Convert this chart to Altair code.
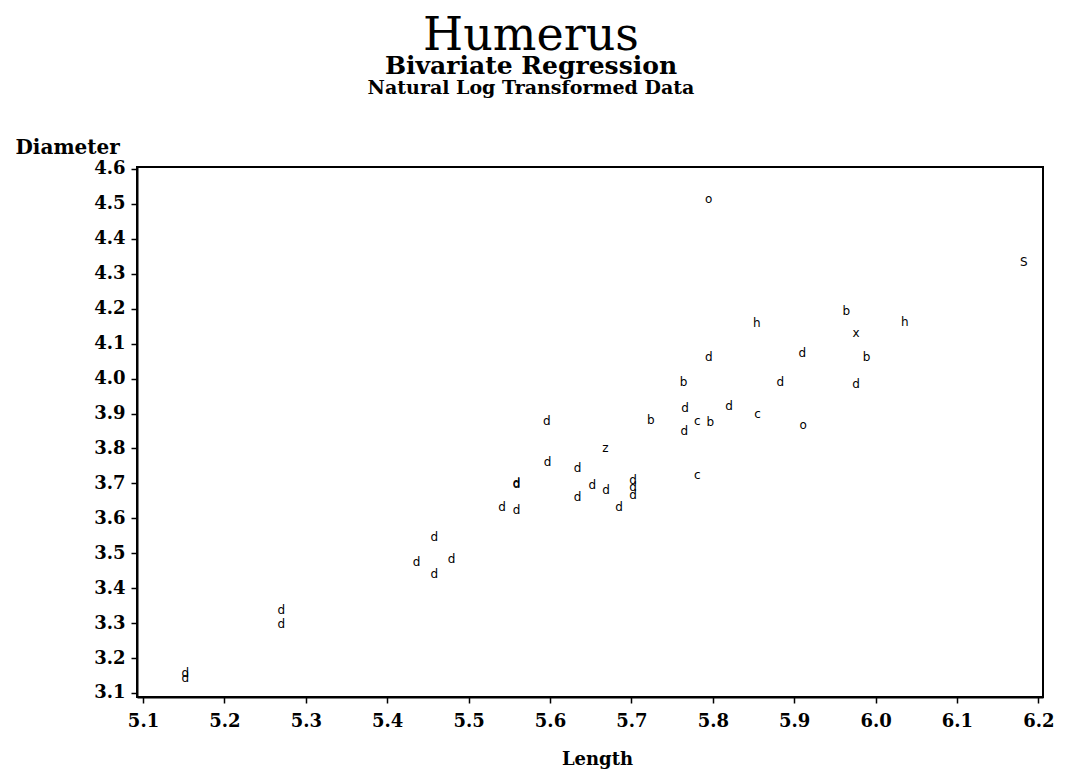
import altair as alt
import pandas as pd

# Natural-log length (x), diameter (y) and the plot symbol of each observation
length = [5.152, 5.152, 5.270, 5.270, 5.436, 5.458, 5.458, 5.479,
          5.541, 5.559, 5.559, 5.559, 5.596, 5.597, 5.634, 5.634,
          5.652, 5.669, 5.668, 5.685, 5.702, 5.702, 5.702, 5.724,
          5.764, 5.766, 5.765, 5.781, 5.797, 5.781, 5.795, 5.795,
          5.820, 5.854, 5.855, 5.883, 5.910, 5.911, 5.964, 5.976,
          5.976, 5.989, 6.036, 6.182]
diameter = [3.156, 3.144, 3.338, 3.298, 3.476, 3.547, 3.441, 3.483,
            3.632, 3.624, 3.702, 3.697, 3.880, 3.761, 3.744, 3.662,
            3.695, 3.681, 3.800, 3.632, 3.710, 3.691, 3.667, 3.882,
            3.991, 3.915, 3.851, 3.879, 3.877, 3.724, 4.513, 4.063,
            3.922, 4.160, 3.899, 3.991, 4.074, 3.866, 4.194, 4.130,
            3.985, 4.063, 4.163, 4.333]
symbol = ["d", "d", "d", "d", "d", "d", "d", "d",
          "d", "d", "d", "d", "d", "d", "d", "d",
          "d", "d", "z", "d", "d", "d", "d", "b",
          "b", "d", "d", "c", "b", "c", "o", "d",
          "d", "h", "c", "d", "d", "o", "b", "x",
          "d", "b", "h", "S"]

x_ticks = [5.1, 5.2, 5.3, 5.4, 5.5, 5.6, 5.7, 5.8, 5.9, 6.0, 6.1, 6.2]
y_ticks = [3.1, 3.2, 3.3, 3.4, 3.5, 3.6, 3.7, 3.8, 3.9, 4.0, 4.1, 4.2, 4.3, 4.4, 4.5, 4.6]

title_lines = ["Humerus", "Bivariate Regression", "Natural Log Transformed Data"]

df = pd.DataFrame({"Length": length, "Diameter": diameter, "sym": symbol})

SERIF = "DejaVu Serif"

points = alt.Chart(df).mark_text(
    font="DejaVu Sans", fontSize=12, color="black", align="center", baseline="middle"
).encode(
    x=alt.X("Length:Q",
            scale=alt.Scale(domain=[5.0926, 6.2057], nice=False, zero=False),
            axis=alt.Axis(values=x_ticks, format=".1f", title="Length",
                          labelPadding=9, titlePadding=20, titleFontSize=18,
                          titleX=460, titleAlign="center")),
    y=alt.Y("Diameter:Q",
            scale=alt.Scale(domain=[3.0885, 4.6057], nice=False, zero=False),
            axis=alt.Axis(values=y_ticks, format=".1f", title="Diameter",
                          titleAngle=0, titleAlign="left", titleBaseline="middle",
                          titleX=-122, titleY=-20, labelPadding=6, titleFontSize=20)),
    text="sym:N",
)


def title_line(txt, size, weight, ypos):
    return alt.Chart(pd.DataFrame({"t": [txt]})).mark_text(
        font=SERIF, fontSize=size, fontWeight=weight, color="black",
        align="center", baseline="middle"
    ).encode(x=alt.value(394), y=alt.value(ypos), text="t:N")


t1 = title_line(title_lines[0], 46, "normal", -131)
t2 = title_line(title_lines[1], 25, "bold", -101)
t3 = title_line(title_lines[2], 19, "bold", -79)

chart = alt.layer(points, t1, t2, t3).properties(
    width=906, height=530,
    autosize=alt.AutoSizeParams(type="none"),
    padding={"left": 129, "top": 159, "right": 16, "bottom": 74},
).configure_view(
    stroke="black", strokeWidth=2
).configure_axis(
    domainColor="black", domainWidth=2, tickColor="black", tickWidth=1.5,
    tickSize=6, grid=False, labelFont=SERIF, labelFontSize=18,
    labelFontWeight="bold", labelColor="black", labelPadding=4,
    titleFont=SERIF, titleFontSize=19, titleFontWeight="bold", titleColor="black",
)

chart.save("out.html", embed_options={"renderer": "svg", "actions": False})
